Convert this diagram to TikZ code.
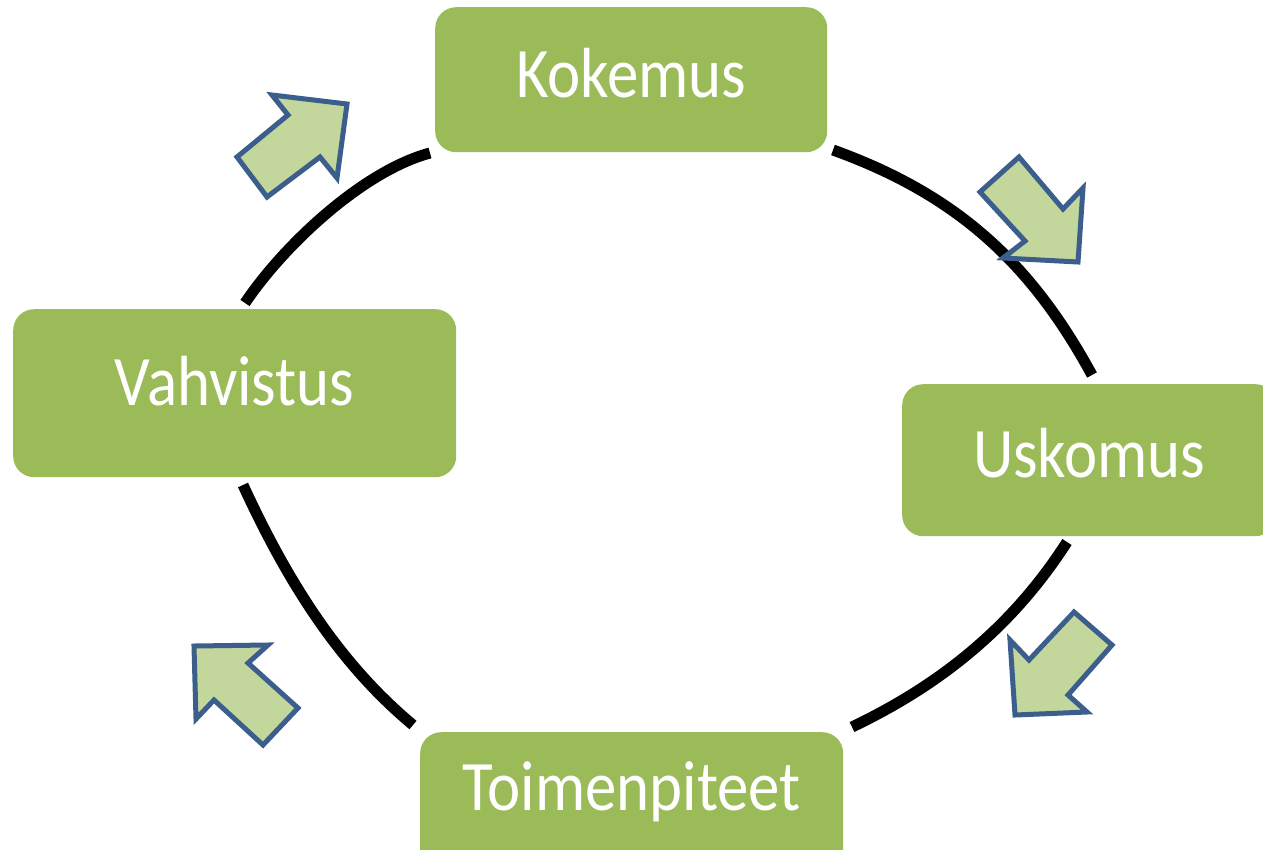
\documentclass[tikz,border=0pt]{standalone}
\usepackage{fontspec}
\setmainfont{Carlito}
\newfontfamily\boxfont[FakeStretch=0.885]{Carlito}
\definecolor{boxgreen}{HTML}{9BBB59}
\definecolor{arrowfill}{HTML}{C3D69B}
\definecolor{arrowblue}{HTML}{3B5E8C}
\tikzset{
  stage/.style={fill=boxgreen, rounded corners=21pt, inner sep=0pt, anchor=north west,
    text=white, font=\boxfont\fontsize{71}{71}\selectfont},
  cyclearc/.style={draw=black, line width=11pt},
  blockarrow/.style={fill=arrowfill, draw=arrowblue, line width=5pt, line join=miter}
}
\begin{document}
\begin{tikzpicture}[x=1pt,y=-1pt]
\clip (0,0) rectangle (1263,849);
\fill[white] (0,0) rectangle (1263,849);

% stages
\node[stage, minimum width=392pt, text height=90pt, text depth=55pt] (kok) at (435,7) {Kokemus};
\node[stage, minimum width=443pt, text height=96pt, text depth=72pt] (vah) at (13,309) {Vahvistus};
\node[stage, minimum width=374pt, text height=93pt, text depth=59pt] (usk) at (902,384) {Uskomus};
\node[stage, minimum width=423pt, text height=78pt, text depth=67pt] (toi) at (420,732) {Toimenpiteet};

% arc end points
\coordinate (a1s) at (245,303);
\coordinate (a1e) at (430,153);
\coordinate (a2s) at (833,150);
\coordinate (a2e) at (1092,375);
\coordinate (a3s) at (1067,542);
\coordinate (a3e) at (852,727);
\coordinate (a4s) at (243,485);
\coordinate (a4e) at (413,725);

\draw[cyclearc] (a1s) .. controls (284,245) and (363,171) .. (a1e);
\draw[cyclearc] (a2s) .. controls (955,194) and (1030,261) .. (a2e);
\draw[cyclearc] (a3s) .. controls (1013,626) and (942,684) .. (a3e);
\draw[cyclearc] (a4s) .. controls (285,576) and (336,661) .. (a4e);

% block arrows
\draw[blockarrow] (237,157) -- (267,197) -- (320,157) -- (337,178) -- (347,104) -- (272,95) -- (288,115) -- cycle;
\draw[blockarrow] (980,192) -- (1019,157) -- (1063,209) -- (1083,188) -- (1078,262) -- (1003,258) -- (1025,241) -- cycle;
\draw[blockarrow] (1074,612) -- (1112,645) -- (1068,695) -- (1087,712) -- (1015,715) -- (1010,640) -- (1029,660) -- cycle;
\draw[blockarrow] (194,646) -- (268,645) -- (248,663) -- (298,708) -- (263,745) -- (214,700) -- (196,719) -- cycle;
\end{tikzpicture}
\end{document}
